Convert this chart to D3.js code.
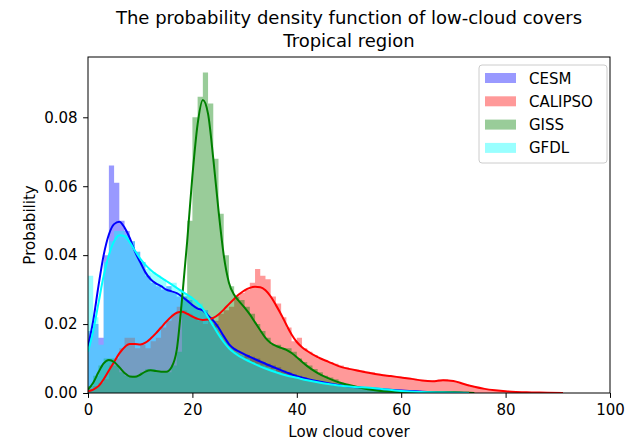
<!DOCTYPE html>
<html><head><meta charset="utf-8">
<script src="https://cdn.jsdelivr.net/npm/d3@7"></script>
<style>
body{margin:0;background:#fff}
svg{display:block}
text{font-family:"DejaVu Sans",sans-serif;fill:#000}
</style>
</head><body>
<svg id="chart" width="625" height="441"></svg>
<script>
// ---------------- data ----------------
const titleLines = ["The probability density function of low-cloud covers", "Tropical region"];
const xLabel = "Low cloud cover";
const yLabel = "Probability";
const seriesNames = ["CESM", "CALIPSO", "GISS", "GFDL"];
const seriesColors = ["#0000ff", "#ff0000", "#008000", "#00ffff"];
const xTicks = [0, 20, 40, 60, 80, 100];
const yTicks = [0, 0.02, 0.04, 0.06, 0.08];
const histBinWidth = 1; // bins start at 0

const cesmHist = [0.018,0.020,0.016,0.040,0.066,0.061,0.050,0.047,0.044,0.041,0.038,0.034,0.032,0.031,0.030,0.031,0.029,0.028,0.028,0.027,0.025,0.024,0.024,0.022,0.020,0.017,0.015,0.013,0.012,0.011,0.011,0.0105,0.010,0.009,0.0085,0.008,0.0075,0.0065,0.006,0.0055,0.005,0.0045,0.004,0.0038,0.0035,0.003,0.0028,0.0026,0.0024,0.0022,0.002,0.0018,0.0016,0.0014,0.0013,0.0012,0.001,0.0009,0.0008,0.0007,0.0006,0.0005,0.0004,0.0004,0.0003,0.0003,0.0002,0.0002,0.0001,0.0001,0.0001];
const calipsoHist = [0.001,0.002,0.003,0.004,0.008,0.010,0.013,0.016,0.016,0.013,0.014,0.013,0.015,0.016,0.019,0.021,0.023,0.025,0.024,0.023,0.022,0.021,0.020,0.022,0.021,0.023,0.024,0.025,0.028,0.029,0.030,0.032,0.036,0.034,0.033,0.028,0.026,0.022,0.019,0.015,0.016,0.013,0.012,0.011,0.010,0.0095,0.009,0.0085,0.008,0.0075,0.007,0.0068,0.0065,0.0062,0.006,0.0056,0.0053,0.0051,0.0049,0.0047,0.0046,0.0044,0.0041,0.0038,0.0036,0.0035,0.0036,0.0039,0.0040,0.0036,0.0033,0.0028,0.0024,0.0019,0.0015,0.0012,0.001,0.0008,0.0007,0.0006,0.0005,0.0004,0.0004,0.0003,0.0003,0.0003,0.0002,0.0002,0.0002,0.0002,0.0002];
const gissHist = [0.002,0.005,0.008,0.010,0.010,0.008,0.006,0.005,0.005,0.005,0.006,0.007,0.007,0.006,0.006,0.006,0.008,0.012,0.028,0.050,0.080,0.086,0.093,0.084,0.068,0.052,0.040,0.031,0.028,0.027,0.025,0.023,0.020,0.018,0.016,0.014,0.014,0.013,0.013,0.012,0.010,0.009,0.008,0.007,0.006,0.005,0.0045,0.004,0.003,0.0025,0.002,0.0018,0.0015,0.0012,0.001,0.0008,0.0006,0.0005,0.0004,0.0003,0.0003,0.0003,0.0003,0.0003,0.0002,0.0002,0.0002,0.0002,0.0002,0.0002,0.0004,0.0004,0.0004,0.0002];
const gfdlHist = [0.034,0.022,0.014,0.038,0.044,0.047,0.047,0.046,0.044,0.041,0.038,0.036,0.035,0.034,0.033,0.031,0.032,0.030,0.029,0.028,0.027,0.026,0.024,0.021,0.019,0.017,0.015,0.013,0.012,0.011,0.010,0.009,0.0085,0.008,0.0075,0.007,0.006,0.0055,0.005,0.0048,0.0045,0.004,0.0037,0.0034,0.0032,0.003,0.0027,0.0025,0.0023,0.0021,0.002,0.0019,0.0018,0.0017,0.0016,0.0015,0.0013,0.0011,0.0009,0.0007,0.0005,0.0004,0.0003,0.0003,0.0002,0.0002,0.0002,0.0001,0.0001,0.0001,0.0001];

const cesmKde = [[0,0.0135],[1,0.021],[2,0.031],[3,0.040],[4,0.046],[5,0.049],[6,0.0497],[7,0.048],[8,0.045],[9,0.041],[10,0.038],[11,0.035],[12,0.033],[13,0.0318],[14,0.031],[15,0.030],[16,0.0295],[17,0.029],[18,0.028],[19,0.0268],[20,0.0255],[21,0.0245],[22,0.024],[23,0.0225],[24,0.021],[25,0.019],[26,0.0165],[27,0.0142],[28,0.0128],[29,0.012],[30,0.0112],[31,0.0105],[32,0.0098],[34,0.0085],[36,0.0072],[38,0.006],[40,0.0049],[42,0.0041],[44,0.0034],[46,0.0028],[48,0.0023],[50,0.0019],[55,0.0012],[60,0.0007],[65,0.0003],[70,0.0001],[73,0]];
const calipsoKde = [[0,0.0005],[1,0.001],[2,0.002],[3,0.004],[4,0.0065],[5,0.009],[6,0.0115],[7,0.0133],[8,0.0142],[9,0.0142],[10,0.0141],[11,0.0146],[12,0.0158],[13,0.0173],[14,0.019],[15,0.0207],[16,0.0222],[17,0.0233],[18,0.0236],[19,0.023],[20,0.0222],[21,0.0215],[22,0.0212],[23,0.0213],[24,0.0218],[25,0.0228],[26,0.0242],[27,0.0258],[28,0.0273],[29,0.0287],[30,0.0298],[31,0.0305],[32,0.0308],[33,0.0307],[34,0.0298],[35,0.028],[36,0.0255],[37,0.0228],[38,0.0198],[39,0.017],[40,0.0148],[41,0.0133],[42,0.0122],[44,0.0104],[46,0.0091],[48,0.0078],[50,0.007],[52,0.0064],[54,0.0058],[56,0.0053],[58,0.0049],[60,0.0045],[62,0.0041],[64,0.0036],[66,0.0034],[68,0.0037],[70,0.0035],[72,0.0026],[74,0.0018],[76,0.0012],[78,0.0008],[80,0.0005],[84,0.0002],[88,0.0001],[91,0]];
const gissKde = [[0,0.001],[1,0.003],[2,0.006],[3,0.0086],[4,0.0096],[5,0.009],[6,0.0075],[7,0.0058],[8,0.0048],[9,0.0047],[10,0.0053],[11,0.0062],[12,0.0066],[13,0.0064],[14,0.0062],[15,0.0062],[16,0.0075],[17,0.0125],[18,0.027],[19,0.044],[20,0.063],[21,0.078],[22,0.085],[23,0.081],[24,0.068],[25,0.053],[26,0.040],[27,0.032],[28,0.0285],[29,0.0265],[30,0.0248],[31,0.0228],[32,0.0205],[33,0.0182],[34,0.016],[35,0.0145],[36,0.0137],[37,0.0131],[38,0.0125],[39,0.0116],[40,0.0104],[41,0.0091],[42,0.0078],[44,0.0058],[46,0.0043],[48,0.0031],[50,0.0023],[52,0.0016],[54,0.001],[56,0.0006],[58,0.0004],[60,0.0003],[65,0.0002],[70,0.0002],[72,0.0001],[74,0]];
const gfdlKde = [[0,0.012],[1,0.018],[2,0.026],[3,0.034],[4,0.040],[5,0.044],[6,0.0458],[7,0.0455],[8,0.0437],[9,0.0413],[10,0.039],[11,0.0372],[12,0.0357],[13,0.0345],[14,0.0335],[15,0.0325],[16,0.0315],[17,0.0305],[18,0.0295],[19,0.0285],[20,0.0275],[21,0.0262],[22,0.0245],[23,0.022],[24,0.0195],[25,0.017],[26,0.0148],[27,0.013],[28,0.0117],[30,0.0098],[32,0.0084],[34,0.0071],[36,0.006],[38,0.0051],[40,0.0044],[42,0.0037],[44,0.0031],[46,0.0026],[48,0.0022],[50,0.0019],[55,0.0014],[60,0.0006],[65,0.0002],[70,0.0001],[73,0]];

const histData = [cesmHist, calipsoHist, gissHist, gfdlHist];
const kdeData = [cesmKde, calipsoKde, gissKde, gfdlKde];

// ---------------- layout ----------------
const plot = {left: 88, right: 610, top: 57, bottom: 393};
const svg = d3.select("#chart");
const x = d3.scaleLinear().domain([0, 100]).range([plot.left, plot.right]);
const y = d3.scaleLinear().domain([0, 0.0975]).range([plot.bottom, plot.top]);

svg.append("defs").append("clipPath").attr("id", "clip")
  .append("rect").attr("x", plot.left).attr("y", plot.top)
  .attr("width", plot.right - plot.left).attr("height", plot.bottom - plot.top);

const gPlot = svg.append("g").attr("clip-path", "url(#clip)");

// histograms (patches first, like matplotlib zorder)
const area = d3.area().curve(d3.curveStepAfter)
  .x(d => x(d[0])).y0(y(0)).y1(d => y(d[1]));
histData.forEach((h, k) => {
  const pts = h.map((v, i) => [i * histBinWidth, v]);
  pts.push([h.length * histBinWidth, h[h.length - 1]]);
  gPlot.append("path").datum(pts)
    .attr("d", area)
    .attr("fill", seriesColors[k]).attr("fill-opacity", 0.4).attr("stroke", "none");
});

// KDE lines
const line = d3.line().curve(d3.curveMonotoneX).x(d => x(d[0])).y(d => y(d[1]));
kdeData.forEach((kd, k) => {
  gPlot.append("path").datum(kd)
    .attr("d", line)
    .attr("fill", "none").attr("stroke", seriesColors[k])
    .attr("stroke-width", 2).attr("stroke-linejoin", "round");
});

// axes
const fs = "15px";
const xAxis = svg.append("g").attr("transform", `translate(0,${plot.bottom})`)
  .call(d3.axisBottom(x).tickValues(xTicks).tickFormat(d3.format("d")).tickSize(4.9).tickPadding(6).tickSizeOuter(0));
const yAxis = svg.append("g").attr("transform", `translate(${plot.left},0)`)
  .call(d3.axisLeft(y).tickValues(yTicks).tickFormat(d3.format(".2f")).tickSize(4.9).tickPadding(5.5).tickSizeOuter(0));
[xAxis, yAxis].forEach(g => {
  g.select(".domain").remove();
  g.selectAll("line").attr("stroke", "#000").attr("stroke-width", 1);
  g.selectAll("text").attr("font-size", fs).attr("font-family", "DejaVu Sans").attr("fill", "#000");
});

// frame
svg.append("rect").attr("x", plot.left).attr("y", plot.top)
  .attr("width", plot.right - plot.left).attr("height", plot.bottom - plot.top)
  .attr("fill", "none").attr("stroke", "#000").attr("stroke-width", 1);

// title
const cx = (plot.left + plot.right) / 2;
svg.append("text").attr("x", cx).attr("y", 24).attr("text-anchor", "middle")
  .attr("font-size", "18px").text(titleLines[0]);
svg.append("text").attr("x", cx).attr("y", 47).attr("text-anchor", "middle")
  .attr("font-size", "18px").text(titleLines[1]);

// axis labels
svg.append("text").attr("x", cx).attr("y", 437).attr("text-anchor", "middle")
  .attr("font-size", fs).text(xLabel);
svg.append("text").attr("transform", `translate(35,${(plot.top + plot.bottom) / 2}) rotate(-90)`)
  .attr("text-anchor", "middle").attr("font-size", fs).text(yLabel);

// legend
const lg = svg.append("g").attr("transform", "translate(479,65)");
lg.append("rect").attr("width", 128).attr("height", 98).attr("rx", 3)
  .attr("fill", "#fff").attr("fill-opacity", 0.8).attr("stroke", "#cccccc").attr("stroke-width", 1);
seriesNames.forEach((name, k) => {
  const ry = 13 + k * 23.3;
  lg.append("rect").attr("x", 6).attr("y", ry - 5).attr("width", 31).attr("height", 10)
    .attr("fill", seriesColors[k]).attr("fill-opacity", 0.4);
  lg.append("text").attr("x", 50).attr("y", ry + 5.5).attr("font-size", fs).text(name);
});
</script>
</body></html>
